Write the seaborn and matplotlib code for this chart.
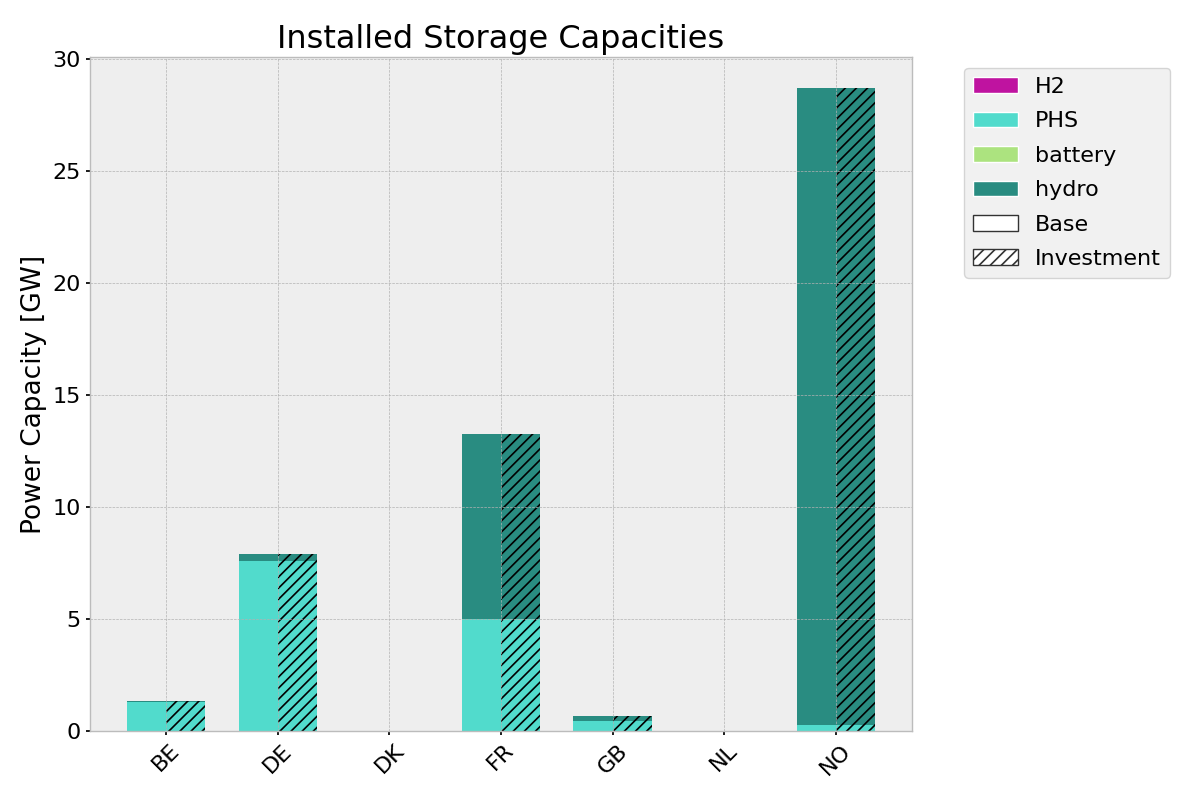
import numpy as np
import matplotlib
matplotlib.use("Agg")
import matplotlib.pyplot as plt
from matplotlib.patches import Patch
import seaborn as sns

# Installed power capacity per country [GW]
countries = ["BE", "DE", "DK", "FR", "GB", "NL", "NO"]
carriers = ["H2", "PHS", "battery", "hydro"]
h2 = [0.0, 0.0, 0.0, 0.0, 0.0, 0.0, 0.0]
phs = [1.30, 7.60, 0.0, 5.00, 0.46, 0.0, 0.27]
battery = [0.0, 0.0, 0.0, 0.0, 0.0, 0.0, 0.0]
hydro = [0.03, 0.30, 0.0, 8.26, 0.21, 0.0, 28.43]
colors = {"H2": "#bf13a0", "PHS": "#51dbcc", "battery": "#ace37f", "hydro": "#298c81"}

base = {"H2": h2, "PHS": phs, "battery": battery, "hydro": hydro}
invest = {"H2": h2, "PHS": phs, "battery": battery, "hydro": hydro}

sns.set_theme(style="darkgrid", rc={
    "axes.facecolor": "#eeeeee",
    "axes.edgecolor": "#bcbcbc",
    "axes.linewidth": 1.0,
    "grid.color": "#b2b2b2",
    "grid.linestyle": "--",
    "grid.linewidth": 0.5,
    "axes.axisbelow": "line",
    "xtick.bottom": True,
    "ytick.left": True,
    "xtick.major.size": 3,
    "ytick.major.size": 3,
    "xtick.color": "black",
    "ytick.color": "black",
    "text.color": "black",
    "axes.labelcolor": "black",
    "legend.frameon": True,
    "legend.framealpha": 0.8,
    "legend.edgecolor": "#cccccc",
    "hatch.color": "black",
    "hatch.linewidth": 1.2,
})
plt.rcParams["font.family"] = ["DejaVu Sans"]

fig, ax = plt.subplots(figsize=(12, 8), dpi=100)
x = np.arange(len(countries))
w = 0.35

bottom_b = np.zeros(len(countries))
bottom_i = np.zeros(len(countries))
for c in carriers:
    vb = np.array(base[c])
    vi = np.array(invest[c])
    ax.bar(x - w, vb, width=w, bottom=bottom_b, align="edge",
           color=colors[c], linewidth=0)
    ax.bar(x, vi, width=w, bottom=bottom_i, align="edge",
           color=colors[c], edgecolor="black", linewidth=0, hatch="///")
    bottom_b += vb
    bottom_i += vi

ax.set_xticks(x)
ax.set_xticklabels(countries, rotation=45, fontsize=16)
ax.tick_params(axis="y", labelsize=16)
ax.set_ylim(0, 30.1)
ax.set_title("Installed Storage Capacities", fontsize=23)
ax.set_ylabel("Power Capacity [GW]", fontsize=19)
ax.grid(True, which="major", axis="both")

handles = [Patch(facecolor=colors[c], label=c) for c in carriers]
handles.append(Patch(facecolor="white", edgecolor="#333333", label="Base"))
handles.append(Patch(facecolor="white", edgecolor="#333333", hatch="///", label="Investment"))
ax.legend(handles=handles, loc="upper left", bbox_to_anchor=(1.05, 1), fontsize=16,
          labelspacing=0.65)

fig.subplots_adjust(left=0.075, right=0.76, top=0.929, bottom=0.086)
fig.savefig("out.png", dpi=100)
